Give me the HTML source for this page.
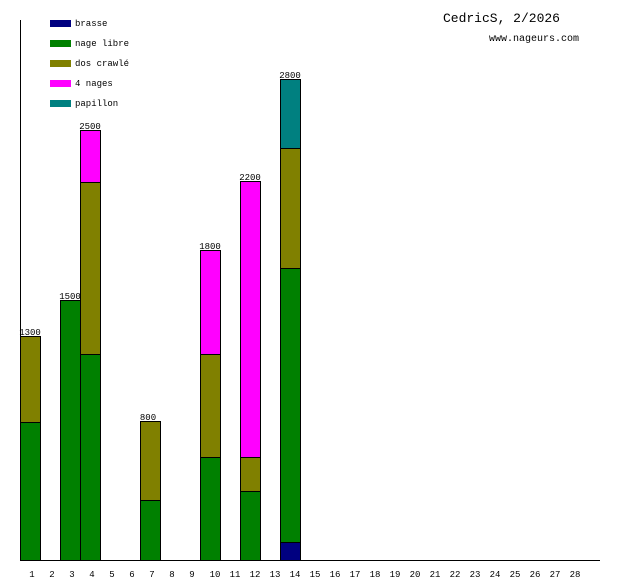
<!DOCTYPE html>
<html><head><style>body{margin:0;background:#fff}svg{display:block}text{font-family:"Liberation Mono",monospace}</style></head><body>
<svg width="620" height="580" xmlns="http://www.w3.org/2000/svg">
<line x1="20.5" y1="20" x2="20.5" y2="560" stroke="#000"/>
<line x1="20" y1="560.5" x2="600" y2="560.5" stroke="#000"/>
<g stroke="#000" stroke-width="1">
<rect x="20.5" y="422.5" width="20" height="138" fill="#008000"/>
<rect x="20.5" y="336.5" width="20" height="86" fill="#808000"/>
<rect x="60.5" y="300.5" width="20" height="260" fill="#008000"/>
<rect x="80.5" y="354.5" width="20" height="206" fill="#008000"/>
<rect x="80.5" y="182.5" width="20" height="172" fill="#808000"/>
<rect x="80.5" y="130.5" width="20" height="52" fill="#ff00ff"/>
<rect x="140.5" y="500.5" width="20" height="60" fill="#008000"/>
<rect x="140.5" y="421.5" width="20" height="79" fill="#808000"/>
<rect x="200.5" y="457.5" width="20" height="103" fill="#008000"/>
<rect x="200.5" y="354.5" width="20" height="103" fill="#808000"/>
<rect x="200.5" y="250.5" width="20" height="104" fill="#ff00ff"/>
<rect x="240.5" y="491.5" width="20" height="69" fill="#008000"/>
<rect x="240.5" y="457.5" width="20" height="34" fill="#808000"/>
<rect x="240.5" y="181.5" width="20" height="276" fill="#ff00ff"/>
<rect x="280.5" y="542.5" width="20" height="18" fill="#000080"/>
<rect x="280.5" y="268.5" width="20" height="274" fill="#008000"/>
<rect x="280.5" y="148.5" width="20" height="120" fill="#808000"/>
<rect x="280.5" y="79.5" width="20" height="69" fill="#008080"/>
</g>
<g font-size="9" text-anchor="middle">
<text x="30" y="335">1300</text><text x="70" y="299">1500</text><text x="90" y="129">2500</text>
<text x="148" y="420">800</text><text x="210" y="249">1800</text><text x="250" y="180">2200</text><text x="290" y="78">2800</text>
</g>
<g font-size="9" text-anchor="middle">
<text x="32" y="577">1</text><text x="52" y="577">2</text><text x="72" y="577">3</text><text x="92" y="577">4</text><text x="112" y="577">5</text><text x="132" y="577">6</text><text x="152" y="577">7</text><text x="172" y="577">8</text><text x="192" y="577">9</text>
<text x="215" y="577">10</text><text x="235" y="577">11</text><text x="255" y="577">12</text><text x="275" y="577">13</text><text x="295" y="577">14</text><text x="315" y="577">15</text><text x="335" y="577">16</text><text x="355" y="577">17</text><text x="375" y="577">18</text><text x="395" y="577">19</text><text x="415" y="577">20</text><text x="435" y="577">21</text><text x="455" y="577">22</text><text x="475" y="577">23</text><text x="495" y="577">24</text><text x="515" y="577">25</text><text x="535" y="577">26</text><text x="555" y="577">27</text><text x="575" y="577">28</text>
</g>
<g font-size="9">
<rect x="50" y="20" width="21" height="7" fill="#000080"/><text x="75" y="26">brasse</text>
<rect x="50" y="40" width="21" height="7" fill="#008000"/><text x="75" y="46">nage libre</text>
<rect x="50" y="60" width="21" height="7" fill="#808000"/><text x="75" y="66">dos crawlé</text>
<rect x="50" y="80" width="21" height="7" fill="#ff00ff"/><text x="75" y="86">4 nages</text>
<rect x="50" y="100" width="21" height="7" fill="#008080"/><text x="75" y="106">papillon</text>
</g>
<text x="560" y="22" font-size="13" text-anchor="end">CedricS, 2/2026</text>
<text x="579" y="41" font-size="10" text-anchor="end">www.nageurs.com</text>
</svg>
</body></html>
